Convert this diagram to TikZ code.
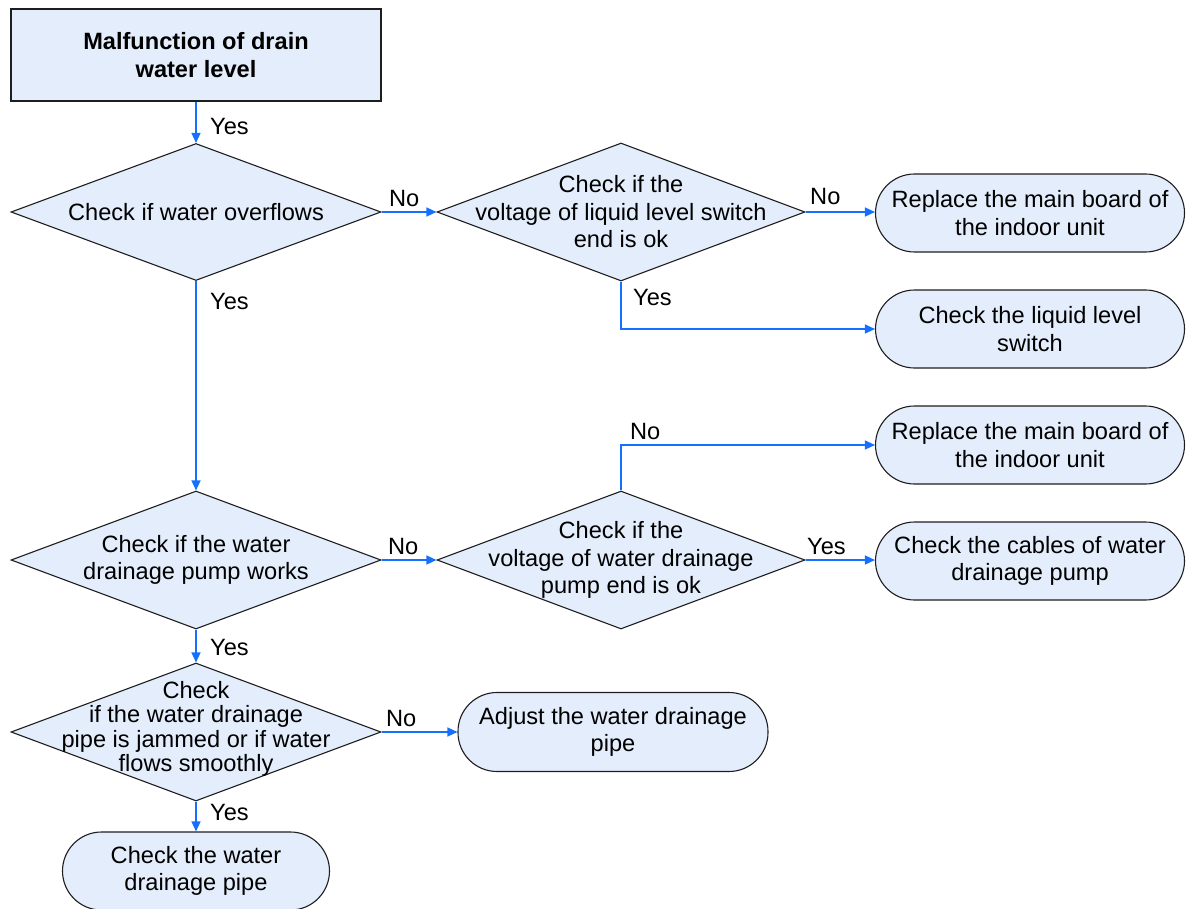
\documentclass[tikz,border=0pt]{standalone}
\usepackage{fontspec}
\setmainfont{Liberation Sans}
\usetikzlibrary{shapes.geometric,arrows.meta}
\definecolor{boxfill}{RGB}{227,237,251}
\definecolor{flow}{RGB}{22,112,255}
\definecolor{outline}{RGB}{30,30,30}

\begin{document}
\begin{tikzpicture}[x=1pt,y=-1pt,
  font=\fontsize{23.6}{27.5}\selectfont,
  base/.style={draw=outline, line width=1.1pt, fill=boxfill},
  startbox/.style={base, rectangle, minimum width=370pt, minimum height=92pt,
    font=\fontsize{23.6}{27.5}\selectfont\bfseries, align=center, inner sep=0pt},
  decision/.style={base, diamond, minimum width=370pt, minimum height=137pt, inner sep=0pt},
  dtext/.style={align=center, inner sep=0pt, fill=none, draw=none},
  terminal/.style={base, rectangle, rounded corners=39pt, minimum width=309pt,
    minimum height=78pt, align=center, inner sep=0pt},
  flowline/.style={draw=flow, line width=1.4pt, -{Triangle[length=10pt,width=9pt]}},
  lbl/.style={anchor=west, inner sep=0pt}
]
\useasboundingbox (0,0) rectangle (1188,909);

% start block
\node[startbox] (top) at (196,55) {Malfunction of drain\\water level};

% decisions
\node[decision, label={[dtext]center:Check if water overflows}] (d1) at (196,212) {};
\node[decision, minimum width=368pt, minimum height=138pt,
  label={[dtext]center:Check if the\\voltage of liquid level switch\\end is ok}] (d2) at (621,212) {};
\node[decision, minimum height=138pt,
  label={[dtext]center:Check if the water\\drainage pump works}] (d3) at (196,560) {};
\node[decision, minimum width=368pt, minimum height=138pt,
  label={[dtext]center:Check if the\\voltage of water drainage\\pump end is ok}] (d4) at (621,560) {};
\node[decision, minimum height=138pt,
  label={[dtext, yshift=3pt, font=\fontsize{23.6}{24.4}\selectfont]center:Check\\if the water drainage\\pipe is jammed or if water\\flows smoothly}] (d5) at (196,732) {};

% actions
\node[terminal] (r1) at (1030,213) {Replace the main board of\\the indoor unit};
\node[terminal] (r2) at (1030,329) {Check the liquid level\\switch};
\node[terminal] (r3) at (1030,445) {Replace the main board of\\the indoor unit};
\node[terminal] (r4) at (1030,561) {Check the cables of water\\drainage pump};
\node[terminal, minimum width=310pt, minimum height=79pt] (r5) at (613,732) {Adjust the water drainage\\pipe};
\node[terminal, minimum width=267pt] (r6) at (196,871) {Check the water\\drainage pipe};

% connectors
\draw[flowline] (top.south) -- (d1.north);
\draw[flowline] (d1.east) -- (d2.west);
\draw[flowline] (d2.east) -- (d2.east -| r1.west);
\draw[flowline] (d2.south) |- (r2.west);
\draw[flowline] (d1.south) -- (d3.north);
\draw[flowline] (d3.east) -- (d4.west);
\draw[flowline] (d4.north) |- (r3.west);
\draw[flowline] (d4.east) -- (d4.east -| r4.west);
\draw[flowline] (d3.south) -- (d5.north);
\draw[flowline] (d5.east) -- (r5.west);
\draw[flowline] (d5.south) -- (r6.north);

% branch labels
\node[lbl] (y1) at (210,126) {Yes};
\node[lbl] (n1) at (389,198) {No};
\node[lbl] (n2) at (810,196) {No};
\node[lbl] (y2) at (633,297) {Yes};
\node[lbl] (y3) at (210,301) {Yes};
\node[lbl] (n3) at (388,546) {No};
\node[lbl] (n4) at (630,431) {No};
\node[lbl] (y4) at (807,546) {Yes};
\node[lbl] (y5) at (210,647) {Yes};
\node[lbl] (n5) at (386,718) {No};
\node[lbl] (y6) at (210,812) {Yes};
\end{tikzpicture}
\end{document}
